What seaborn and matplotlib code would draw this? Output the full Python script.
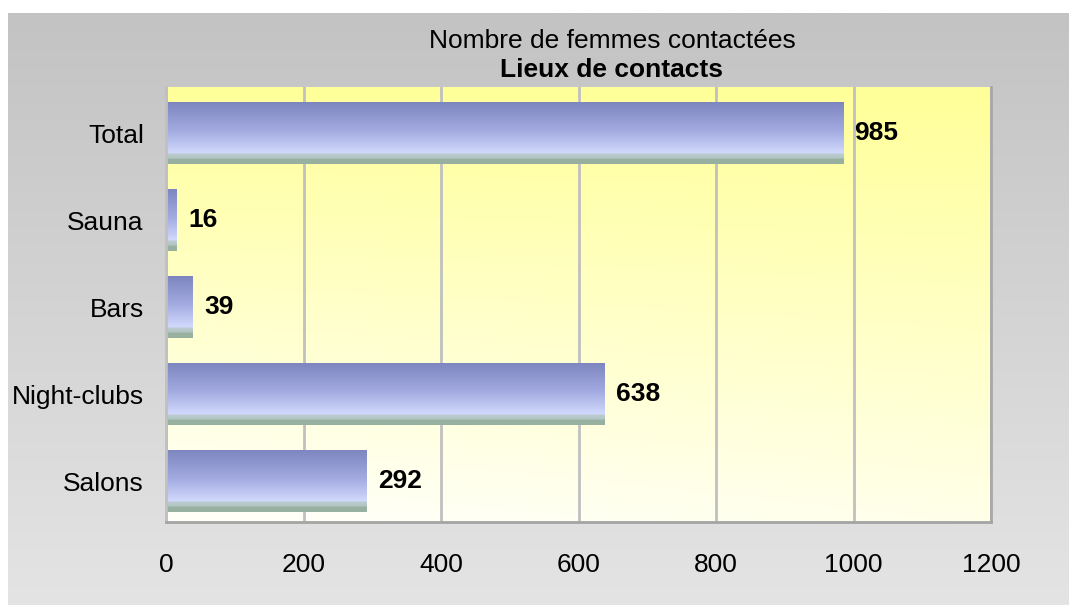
import numpy as np
import pandas as pd
import matplotlib
matplotlib.use("Agg")
import matplotlib.pyplot as plt
import seaborn as sns
from matplotlib.colors import LinearSegmentedColormap

# data
lieux = ["Total", "Sauna", "Bars", "Night-clubs", "Salons"]
femmes = [985, 16, 39, 638, 292]
x_ticks = [0, 200, 400, 600, 800, 1000, 1200]

df = pd.DataFrame({"lieu": lieux, "femmes": femmes})

sns.set_style("white")
plt.rcParams["font.family"] = ["Liberation Sans", "DejaVu Sans"]
plt.rcParams["text.color"] = "black"
plt.rcParams["xtick.color"] = "black"
plt.rcParams["ytick.color"] = "black"

fig = plt.figure(figsize=(10.69, 6.05), dpi=100)
fig.patch.set_facecolor("white")

# grey gradient background (white strip left and top)
bg = fig.add_axes([8 / 1069, 0, 1 - 8 / 1069, 1 - 13 / 605])
grad = np.linspace(0, 1, 256).reshape(-1, 1)
bg_cmap = LinearSegmentedColormap.from_list("bg", ["#c3c3c3", "#e4e4e4"])
bg.imshow(grad, aspect="auto", cmap=bg_cmap, extent=[0, 1, 1, 0])
bg.set_axis_off()

ax = fig.add_axes([166 / 1069, 1 - 522 / 605, (991 - 166) / 1069, (522 - 87) / 605])

sns.barplot(data=df, x="femmes", y="lieu", orient="h", width=0.71,
            color="#a0a8e0", ax=ax)

y_lo, y_hi = len(lieux) - 0.53, -0.53

# yellow plot area gradient
yy, xx = np.mgrid[0:1:200j, 0:1:200j]
inten = np.clip(1 - yy * (1.05 - 0.2 * xx), 0, 1)
yellow = np.ones((200, 200, 3))
yellow[..., 2] = 0.97 - 0.37 * inten
ax.imshow(yellow, aspect="auto", extent=[0, 1200, y_lo, y_hi],
          zorder=0, interpolation="bilinear")

# bar gradient
bar_cmap = LinearSegmentedColormap.from_list("bar", [
    (0.0, "#7e86c0"), (0.45, "#a2aae0"), (0.82, "#d0d8fc"),
    (0.85, "#bccbd0"), (0.91, "#b0c4c0"), (0.92, "#98b0a0"), (1.0, "#98b0a0")])
bar_grad = np.linspace(0, 1, 128).reshape(-1, 1)
for p in ax.patches:
    x0, y0 = p.get_x(), p.get_y()
    w, h = p.get_width(), p.get_height()
    p.set_facecolor("none")
    p.set_edgecolor("none")
    im = ax.imshow(bar_grad, aspect="auto", cmap=bar_cmap,
                   extent=[x0, x0 + w, y0 + h, y0], zorder=2,
                   interpolation="nearest")
    im.set_clip_path(p)

ax.set_xlim(0, 1200)
ax.set_ylim(y_lo, y_hi)

ax.bar_label(ax.containers[0], labels=[str(v) for v in femmes], padding=8,
             fontsize=19, fontweight="bold", color="black")

ax.set_xticks(x_ticks)
ax.set_xticklabels([str(t) for t in x_ticks])
ax.xaxis.grid(True, color="#c0c0c0", lw=2)
ax.yaxis.grid(False)
ax.set_axisbelow(True)
ax.tick_params(axis="x", length=0, pad=22, labelsize=19)
ax.tick_params(axis="y", length=0, pad=16, labelsize=19)
ax.set_xlabel("")
ax.set_ylabel("")

for side in ["left", "bottom", "right"]:
    ax.spines[side].set_visible(True)
    ax.spines[side].set_linewidth(2)
ax.spines["left"].set_color("#c0c0c0")
ax.spines["bottom"].set_color("#a4a4a4")
ax.spines["right"].set_color("#a8a8a8")
ax.spines["top"].set_visible(False)

fig.text(612 / 1069, 1 - 41 / 605, "Nombre de femmes contactées",
         ha="center", va="center", fontsize=19)
fig.text(612 / 1069, 1 - 70 / 605, "Lieux de contacts",
         ha="center", va="center", fontsize=19, fontweight="bold")

fig.savefig("out.png", dpi=100)
